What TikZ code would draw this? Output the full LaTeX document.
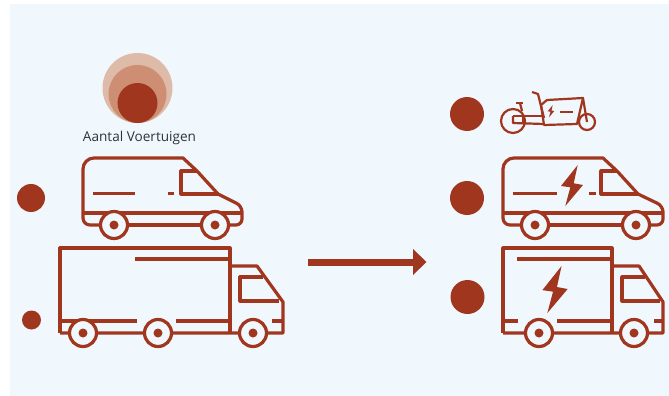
\documentclass[tikz,border=0pt]{standalone}
\usepackage{fontspec}
\setmainfont{Open Sans}
\usepackage{xcolor}
\usetikzlibrary{positioning,calc}
\definecolor{rust}{HTML}{A1361F}
\definecolor{panel}{HTML}{F0F8FE}
\definecolor{halo}{HTML}{DDBBA8}
\definecolor{halomid}{HTML}{CD8E74}

\begin{document}
\begin{tikzpicture}[
    x=1pt, y=-1pt,
    dot/.style={circle, fill=rust, inner sep=0pt},
    wheel/.style={circle, draw=rust, line width=3.2pt, fill=panel, inner sep=0pt, minimum size=27pt},
    hub/.style={circle, fill=rust, inner sep=0pt, minimum size=9pt},
    outline/.style={draw=rust, line width=3.2pt, line join=round},
    thinline/.style={draw=rust, line width=2.2pt, line join=round},
    bolt/.pic={\fill[rust, line join=round] (5.7,-20) -- (-11,1) -- (-1.7,2.3) -- (-6.7,21) -- (11,0) -- (1.7,-1.7) -- cycle;}
]

\useasboundingbox (0,0) rectangle (669,396);
\fill[panel] (10,4) rectangle (669,396);

% Legend
\node[circle, fill=halo, inner sep=0pt, minimum size=70pt] (haloout) at (137.5,88) {};
\node[circle, fill=halomid, inner sep=0pt, minimum size=58pt] (halomiddle) at (137.5,94) {};
\node[dot, minimum size=40pt] (haloin) at (137.5,103) {};
\node[font=\fontsize{13.6}{15}\selectfont, text=black!80] (legend) at (139.5,138) {Aantal Voertuigen};

% Left van
\path[outline] (83,213) [rounded corners=11pt] -- (83,158) [sharp corners] -- (183,158) -- (197,171) -- (218,194) [rounded corners=6pt] -- (242,206) -- (242,225) [sharp corners] -- (229,225);
\path[outline] (83,213) [rounded corners=7pt] -- (83,225) [sharp corners] -- (100,225);
\path[outline] (83,213) -- (241,213);
\path[outline] (128,225) -- (201,225);
\path[outline] (197,171) -- (181,171) -- (181,194) -- (218,194);
\path[outline] (93,193.5) -- (135,193.5);
\path[outline] (168,193.5) -- (174,193.5);
\node[wheel] (vanrear) at (114,225) {};
\node[wheel] (vanfront) at (215,225) {};
\node[hub] at (vanrear) {};
\node[hub] at (vanfront) {};
\node[dot, minimum size=28pt] (vandot) at (31,198) {};

% Left truck
\path[outline] (60,333) -- (60,248) -- (230,248) -- (230,333);
\path[outline] (135,259) -- (230,259);
\path[outline] (60,321) -- (137,321);
\path[outline] (176,321) -- (230,321);
\path[outline] (60,333) -- (283,333) -- (283,302) -- (257,266) -- (230,266);
\path[outline] (272,321) -- (283,321);
\path[outline] (263,277) -- (240,277) -- (240,301) -- (279,301);
\node[wheel] (truckrear) at (83,333) {};
\node[wheel] (truckmid) at (158,333) {};
\node[wheel] (truckfront) at (253,333) {};
\node[hub] at (truckrear) {};
\node[hub] at (truckmid) {};
\node[hub] at (truckfront) {};
\node[dot, minimum size=19pt] (truckdot) at (31.5,320) {};

% Arrow
\coordinate (arrowstart) at (308,262);
\coordinate (arrowend) at (414,262);
\draw[rust, line width=7pt] (arrowstart) -- (arrowend);
\fill[rust] (413,249) -- (426.5,262) -- (413,275) -- cycle;

% Cargo bike
\node[dot, minimum size=34pt] (bikedot) at (467,114) {};
\node[circle, draw=rust, line width=2.2pt, inner sep=0pt, minimum size=24pt] (bikerear) at (513,121) {};
\node[circle, draw=rust, line width=2.2pt, inner sep=0pt, minimum size=16pt] (bikefront) at (587,122) {};
\path[thinline] (541,105) -- (547,100) -- (583,98) -- (577,124) -- (544,125) -- (541,105);
\path[thinline] (583,98) -- (587,122);
\path[thinline] (532,92) -- (538,94) -- (544,118);
\path[thinline] (516,103) -- (523,103);
\path[thinline] (520,103) -- (522,111);
\path[thinline] (513,116) -- (542,116);
\path[thinline] (513,116) -- (513,123) -- (544,124);
\path[thinline] (523,116) -- (523,123);
\path[thinline] (560,112) -- (573,112);
\pic[scale=0.3] at (551,111) {bolt};

% Right van
\path[outline] (503,213) [rounded corners=11pt] -- (503,158) [sharp corners] -- (603,158) -- (617,171) -- (638,194) [rounded corners=6pt] -- (663,206) -- (663,225) [sharp corners] -- (650,225);
\path[outline] (503,213) [rounded corners=7pt] -- (503,225) [sharp corners] -- (521,225);
\path[outline] (503,213) -- (662,213);
\path[outline] (549,225) -- (622,225);
\path[outline] (617,171) -- (601,171) -- (601,194) -- (638,194);
\path[outline] (513,193.5) -- (557,193.5);
\path[outline] (589,193.5) -- (596,193.5);
\pic at (572,185) {bolt};
\node[wheel] (evanrear) at (535,225) {};
\node[wheel] (evanfront) at (636,225) {};
\node[hub] at (evanrear) {};
\node[hub] at (evanfront) {};
\node[dot, minimum size=34pt] (evandot) at (467,198) {};

% Right truck
\path[outline] (503,333) -- (503,248) -- (612,248) -- (612,333);
\path[outline] (517,259) -- (612,259);
\path[outline] (503,321) -- (518,321);
\path[outline] (557,321) -- (612,321);
\path[outline] (503,333) -- (663,333) -- (663,302) -- (639,266) -- (612,266);
\path[outline] (654,321) -- (663,321);
\path[outline] (645,277) -- (622,277) -- (622,301) -- (660,301);
\pic[scale=1.15] at (555,289) {bolt};
\node[wheel] (etruckrear) at (539,333) {};
\node[wheel] (etruckfront) at (634,333) {};
\node[hub] at (etruckrear) {};
\node[hub] at (etruckfront) {};
\node[dot, minimum size=34pt] (etruckdot) at (467.5,297) {};

\end{tikzpicture}
\end{document}
